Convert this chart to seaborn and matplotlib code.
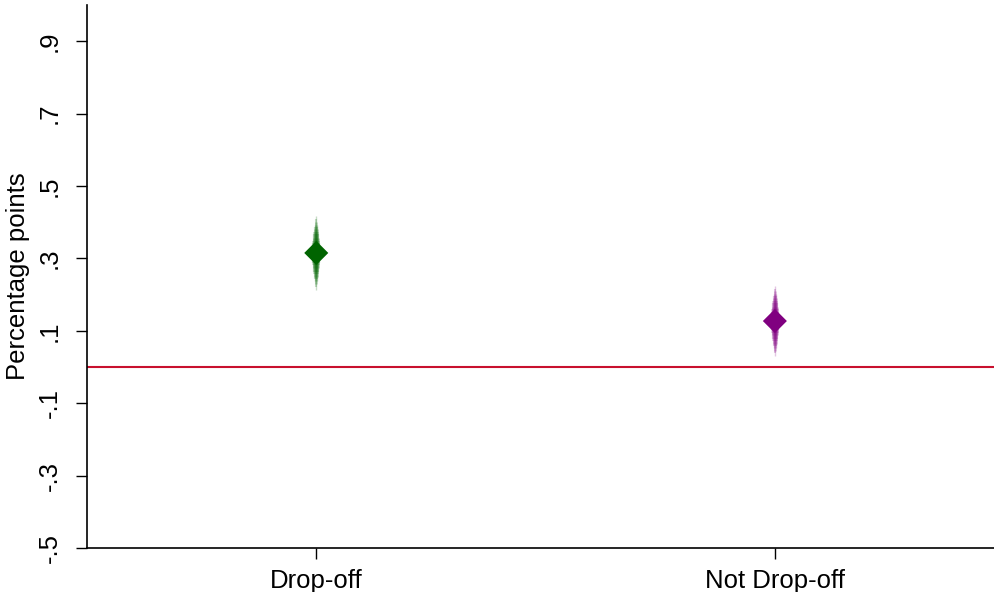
import matplotlib
matplotlib.use("Agg")
import matplotlib.pyplot as plt
import numpy as np
import pandas as pd
import seaborn as sns
from statistics import NormalDist

# Point estimates and standard errors
groups = ["Drop-off", "Not Drop-off"]
estimates = [0.315, 0.127]
std_errors = [0.040, 0.038]
colors = ["#006400", "#800080"]

# Stacked confidence levels (outer = thin and faint, inner = thick and solid)
ci_levels = [0.99, 0.98, 0.97, 0.95, 0.93, 0.90, 0.85, 0.80, 0.70, 0.60, 0.50]

yticks = [-0.5, -0.3, -0.1, 0.1, 0.3, 0.5, 0.7, 0.9]
ytick_labels = ["-.5", "-.3", "-.1", ".1", ".3", ".5", ".7", ".9"]

df = pd.DataFrame({"group": groups, "est": estimates, "se": std_errors})

sns.set_style("white")
plt.rcParams["font.family"] = ["Liberation Sans", "DejaVu Sans"]
plt.rcParams["text.color"] = "black"
plt.rcParams["axes.labelcolor"] = "black"
plt.rcParams["xtick.color"] = "black"
plt.rcParams["ytick.color"] = "black"

fig = plt.figure(figsize=(9.95, 5.92), dpi=100)
ax = fig.add_axes([0.0874, 0.0743, 0.9126, 0.9173])

# Tapered confidence bands
for i, row in df.iterrows():
	for k, lvl in enumerate(ci_levels):
		z = NormalDist().inv_cdf(0.5 + lvl / 2)
		lw = 1.0 + 5.0 * k / (len(ci_levels) - 1)
		ax.vlines(i, row["est"] - z * row["se"], row["est"] + z * row["se"],
			color=colors[i], linewidth=lw, alpha=0.22, zorder=2)

sns.scatterplot(data=df, x=np.arange(len(df)), y="est", hue="group", palette=colors,
	marker="D", s=150, edgecolor="none", legend=False, ax=ax, zorder=3)

ax.axhline(0, color="#c8102e", linewidth=1.5, zorder=1)

ax.set_xlim(-0.5, 1.48)
ax.set_ylim(-0.5, 1.0)
ax.set_xticks(range(len(groups)))
ax.set_xticklabels(groups)
ax.set_yticks(yticks)
ax.set_yticklabels(ytick_labels, rotation=90, va="center")
ax.set_xlabel("")
ax.set_ylabel("Percentage points", fontsize=18.5, labelpad=6)
ax.tick_params(axis="both", labelsize=18.5, length=8, width=1, colors="black", direction="out",
	left=True, bottom=True)
ax.tick_params(axis="x", pad=7)
ax.tick_params(axis="y", pad=10)

for side in ["top", "right"]:
	ax.spines[side].set_visible(False)
for side in ["left", "bottom"]:
	ax.spines[side].set_color("black")
	ax.spines[side].set_linewidth(1.2)

fig.savefig("out.png", dpi=100)
